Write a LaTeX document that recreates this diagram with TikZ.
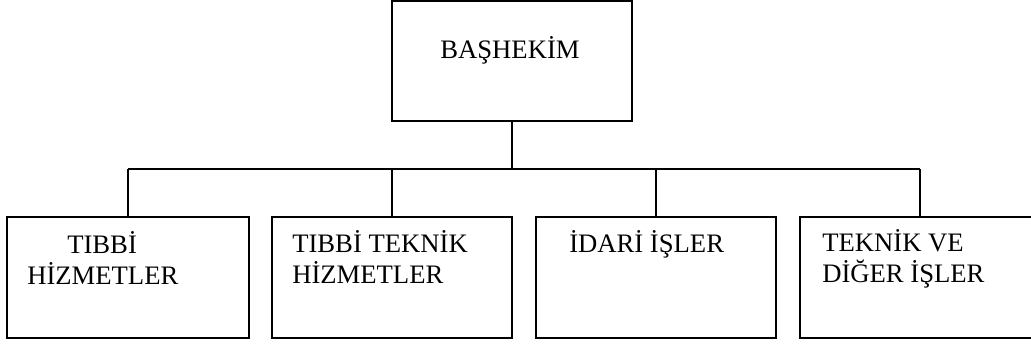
\documentclass[tikz,border=0pt]{standalone}
\usepackage{fontspec}
\setmainfont{Liberation Serif}
\usetikzlibrary{positioning}

\begin{document}
\begin{tikzpicture}[
    x=0.75pt, y=-0.75pt,
    unitbox/.style={draw, line width=1.5pt, rectangle, minimum width=180pt, minimum height=90pt, inner sep=0pt},
    unittext/.style={font=\fontsize{20}{23}\selectfont, align=left, inner sep=0pt, anchor=base west},
    link/.style={draw, line width=1.5pt}
]
\clip (0,0) rectangle (1031,345);

% --- Kutular ---
\node[unitbox] (top) at (512,61.5) {};
\node[unitbox, minimum width=181.5pt] (b1) at (128,277.5) {};
\node[unitbox] (b2) at (392,277.5) {};
\node[unitbox] (b3) at (656,277.5) {};
\node[unitbox] (b4) at (920,277.5) {};

% --- Yazilar (base = son satir) ---
\node[unittext, anchor=base] (ttop) at ([shift={(-2,58)}]top.north) {BAŞHEKİM};
\node[unittext] (t1) at ([shift={(21,67.5)}]b1.north west) {\hspace*{30pt}TIBBİ\\HİZMETLER};
\node[unittext] (t2) at ([shift={(21,67)}]b2.north west) {TIBBİ TEKNİK\\HİZMETLER};
\node[unittext] (t3) at ([shift={(34,36)}]b3.north west) {İDARİ İŞLER};
\node[unittext] (t4) at ([shift={(23,66)}]b4.north west) {TEKNİK VE\\DİĞER İŞLER};

% --- Baglantilar ---
\coordinate (hub) at (512,169.5);
\draw[link] (top.south) -- (hub);
\draw[link] (b1.north |- hub) -- (b4.north |- hub);
\foreach \b in {b1, b2, b3, b4} {
    \draw[link] (\b.north |- hub) -- (\b.north);
}
\end{tikzpicture}
\end{document}
